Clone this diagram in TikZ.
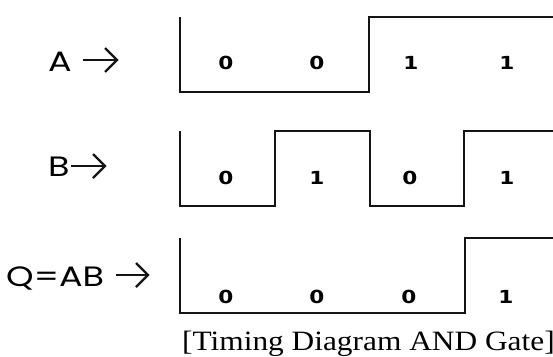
\documentclass[tikz,border=0pt]{standalone}
\usepackage{fontspec}
\usetikzlibrary{calc}
\setmainfont[FakeStretch=1.12]{Liberation Serif}
\newfontfamily\labfont[FakeStretch=1.25]{Poppins}
\newfontfamily\bitfont[FakeStretch=1.2]{DejaVu Sans}
\begin{document}
\begin{tikzpicture}[x=1pt,y=-1pt,
  wave/.style={line width=2.6pt,line join=miter,color=black!92},
  sig/.style={font=\labfont\fontsize{28}{28}\selectfont,inner sep=0pt,anchor=base west},
  pointer/.style={line width=2.4pt,line join=miter,line cap=butt,color=black!92},
  bit/.style={font=\bitfont\bfseries\fontsize{18}{18}\selectfont,inner sep=0pt},
  caption/.style={font=\fontsize{28}{28}\selectfont,inner sep=0pt,anchor=base west}]
\useasboundingbox (0,0) rectangle (553,356);
\clip (0,0) rectangle (553,356);

% signal names
\node[sig] (la) at (48,71) {A};
\node[sig] (lb) at (48,176) {B};
\node[sig] (lq) at (6,286) {Q=AB};

% pointers after the names
\coordinate (pa0) at (83,60);  \coordinate (pa1) at (117,60);
\coordinate (pb0) at (71,166); \coordinate (pb1) at (105,166);
\coordinate (pq0) at (116,275); \coordinate (pq1) at (148,275);
\foreach \s/\e in {pa0/pa1,pb0/pb1,pq0/pq1}{
  \draw[pointer] (\s) -- (\e);
  \draw[pointer] ($(\e)+(-12,-12)$) -- (\e) -- ($(\e)+(-12,12)$);
}

% waveforms
\draw[wave] (180,17) -- (180,92) -- (369,92) -- (369,17) -- (560,17);
\draw[wave] (180,131) -- (180,206) -- (275,206) -- (275,131) -- (370,131)
            -- (370,206) -- (464,206) -- (464,131) -- (560,131);
\draw[wave] (180,238) -- (180,313) -- (465,313) -- (465,238) -- (560,238);

% bit values
\node[bit] (a1) at (226,63) {0};
\node[bit] (a2) at (317,63) {0};
\node[bit] (a3) at (411,63) {1};
\node[bit] (a4) at (507,63) {1};
\node[bit] (b1) at (226,178) {0};
\node[bit] (b2) at (317,178) {1};
\node[bit] (b3) at (410,178) {0};
\node[bit] (b4) at (507,178) {1};
\node[bit] (q1) at (226,297) {0};
\node[bit] (q2) at (317,297) {0};
\node[bit] (q3) at (409,297) {0};
\node[bit] (q4) at (506,297) {1};

% caption
\node[caption] (cap) at (182,350) {[Timing Diagram AND Gate]};
\end{tikzpicture}
\end{document}
